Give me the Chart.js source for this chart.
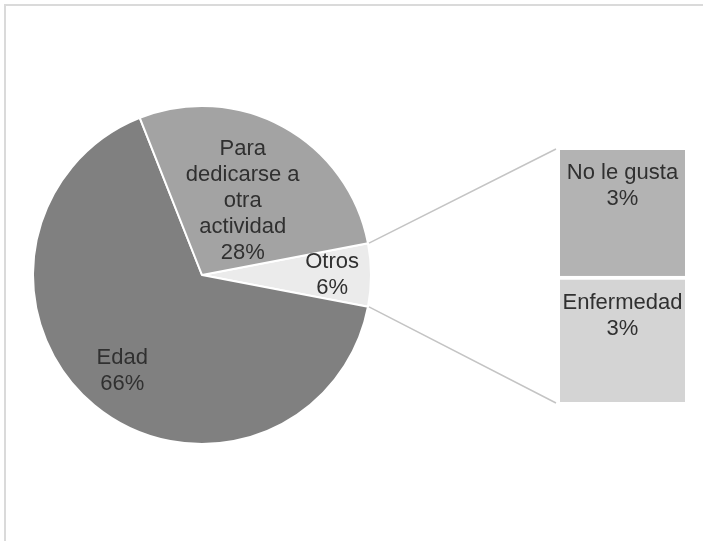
<!DOCTYPE html>
<html>
<head>
<meta charset="utf-8">
<script src="https://cdn.jsdelivr.net/npm/chart.js@4.4.1/dist/chart.umd.min.js"></script>
<style>
  html, body { margin: 0; padding: 0; background: #fff; }
  #wrap { position: relative; width: 703px; height: 541px; overflow: hidden; }
  #frame { position: absolute; left: 4px; top: 4px; width: 720px; height: 560px;
           border-top: 2px solid #dadada; border-left: 2px solid #dadada; }
  canvas { position: absolute; left: 0; top: 0; }
</style>
</head>
<body>
<div id="wrap">
  <div id="frame"></div>
  <canvas id="pie" width="703" height="541"></canvas>
  <canvas id="bar" width="703" height="541"></canvas>
</div>
<script>
const pieLabels = ['Otros', 'Edad', 'Para dedicarse a otra actividad'];
const pieText = [['Otros'], ['Edad'], ['Para', 'dedicarse a', 'otra', 'actividad']];
const pieValues = [6, 66, 28];
const pieColors = ['#ebebeb', '#808080', '#a3a3a3'];

const barLabels = ['Enfermedad', 'No le gusta'];
const barValues = [3, 3];
const barColors = ['#d4d4d4', '#b3b3b3'];

const FONT = '22px "Liberation Sans", Arial, sans-serif';
const TEXT = '#303030';
const LINE_H = 26;

function drawLines(ctx, lines, x, y) {
  ctx.save();
  ctx.font = FONT;
  ctx.fillStyle = TEXT;
  ctx.textAlign = 'center';
  ctx.textBaseline = 'middle';
  lines.forEach((t, i) => ctx.fillText(t, x, y + i * LINE_H));
  ctx.restore();
}

// labels inside the pie slices
const pieLabelPlugin = {
  id: 'pieLabels',
  afterDatasetsDraw(chart) {
    const meta = chart.getDatasetMeta(0);
    const total = pieValues.reduce((a, b) => a + b, 0);
    const dist = [0.77, 0.74, 0.5];
    meta.data.forEach((arc, i) => {
      const mid = (arc.startAngle + arc.endAngle) / 2;
      const r = arc.outerRadius * dist[i];
      const lines = pieText[i].concat([Math.round(pieValues[i] / total * 100) + '%']);
      const cx = arc.x + Math.cos(mid) * r;
      const cy = arc.y + Math.sin(mid) * r - (lines.length - 1) * LINE_H / 2;
      drawLines(chart.ctx, lines, cx, cy);
    });
  }
};

const pieChart = new Chart(document.getElementById('pie').getContext('2d'), {
  type: 'pie',
  data: {
    labels: pieLabels,
    datasets: [{
      data: pieValues,
      backgroundColor: pieColors,
      borderColor: '#ffffff',
      borderWidth: 2
    }]
  },
  options: {
    responsive: false,
    animation: false,
    rotation: 79.2,
    layout: { padding: { left: 32, top: 105, right: 331, bottom: 96 } },
    plugins: { legend: { display: false }, tooltip: { enabled: false } }
  },
  plugins: [pieLabelPlugin]
});

// connectors from the "Otros" slice to the bar + labels in the bar
const barPlugin = {
  id: 'barExtras',
  afterDatasetsDraw(chart) {
    const ctx = chart.ctx;
    const arc = pieChart.getDatasetMeta(0).data[0];
    const R = arc.outerRadius + 1;
    const low = chart.getDatasetMeta(0).data[0];
    const high = chart.getDatasetMeta(1).data[0];
    const left = high.x - high.width / 2 - 4;
    ctx.save();
    ctx.strokeStyle = '#c4c4c4';
    ctx.lineWidth = 1.5;
    ctx.beginPath();
    ctx.moveTo(arc.x + Math.cos(arc.startAngle) * R, arc.y + Math.sin(arc.startAngle) * R);
    ctx.lineTo(left, high.y - 1);
    ctx.moveTo(arc.x + Math.cos(arc.endAngle) * R, arc.y + Math.sin(arc.endAngle) * R);
    ctx.lineTo(left, low.base + 1);
    ctx.stroke();
    ctx.restore();

    const total = pieValues.reduce((a, b) => a + b, 0);
    [low, high].forEach((bar, i) => {
      const top = Math.min(bar.y, bar.base);
      const pct = Math.round(barValues[i] / total * 100) + '%';
      drawLines(ctx, [barLabels[i], pct], bar.x, top + (i === 0 ? 27 : 23));
    });
  }
};

new Chart(document.getElementById('bar').getContext('2d'), {
  type: 'bar',
  data: {
    labels: [''],
    datasets: barLabels.map((name, i) => ({
      label: name,
      data: [barValues[i]],
      backgroundColor: barColors[i],
      borderColor: '#ffffff',
      borderWidth: i === 0 ? { top: 4, left: 0, right: 0, bottom: 0 } : 0,
      borderSkipped: false,
      barPercentage: 1,
      categoryPercentage: 1
    }))
  },
  options: {
    responsive: false,
    animation: false,
    layout: { padding: { left: 560, top: 150, right: 18, bottom: 139 } },
    scales: {
      x: { stacked: true, display: false },
      y: { stacked: true, display: false, min: 0, max: barValues.reduce((a, b) => a + b, 0) }
    },
    plugins: { legend: { display: false }, tooltip: { enabled: false } }
  },
  plugins: [barPlugin]
});
</script>
</body>
</html>
